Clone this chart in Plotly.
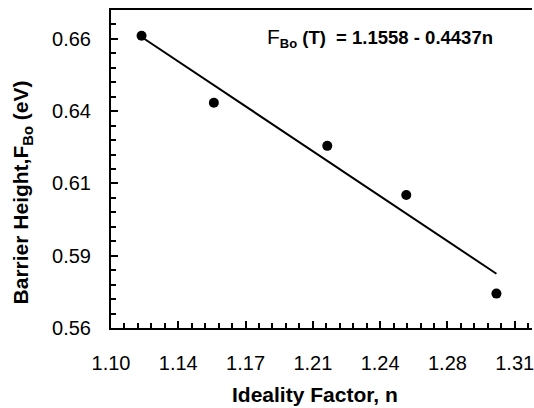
import plotly.graph_objects as go

# data
ideality_n = [1.1159, 1.1535, 1.2125, 1.2536, 1.3005]
barrier_eV = [0.6611, 0.6379, 0.6230, 0.6060, 0.5719]

fit_intercept = 1.1558
fit_slope = -0.4437

x_tickvals = [1.10, 1.135, 1.17, 1.205, 1.24, 1.275, 1.31]
x_ticktext = ["1.10", "1.14", "1.17", "1.21", "1.24", "1.28", "1.31"]
y_tickvals = [0.56, 0.585, 0.61, 0.635, 0.66]
y_ticktext = ["0.56", "0.59", "0.61", "0.64", "0.66"]

FONT = "Liberation Sans, Arial, sans-serif"

fit_x = [min(ideality_n), max(ideality_n)]
fit_y = [fit_intercept + fit_slope * v for v in fit_x]

fig = go.Figure()
fig.add_trace(go.Scatter(x=fit_x, y=fit_y, mode="lines",
                         line=dict(color="black", width=2), showlegend=False))
fig.add_trace(go.Scatter(x=ideality_n, y=barrier_eV, mode="markers",
                         marker=dict(color="black", size=10), showlegend=False))

W, H = 534, 408
L, R, T, B = 111, 0, 10, 80
pw, ph = W - L - R, H - T - B

def px(xp):
    return (xp - L) / pw

def py(yp):
    return (H - B - yp) / ph

fig.update_layout(
    width=W, height=H,
    margin=dict(l=L, r=R, t=T, b=B),
    paper_bgcolor="white", plot_bgcolor="white",
    font=dict(family=FONT, size=20, color="black"),
    xaxis=dict(range=[1.10, 1.319], tickvals=x_tickvals, ticktext=x_ticktext,
               ticks="inside", ticklen=7, tickwidth=1.5, tickcolor="black",
               showline=True, linewidth=2, linecolor="black", mirror=True,
               showgrid=False, zeroline=False, ticklabelstandoff=16,
               ticklabeloverflow="allow",
               minor=dict(dtick=0.007, tick0=1.10, ticks="inside", ticklen=5,
                          tickwidth=1.5, tickcolor="black", showgrid=False)),
    yaxis=dict(range=[0.56, 0.67], tickvals=y_tickvals, ticktext=y_ticktext,
               ticks="inside", ticklen=7, tickwidth=1.5, tickcolor="black",
               showline=True, linewidth=2, linecolor="black", mirror=False,
               showgrid=False, zeroline=False, ticklabelstandoff=14,
               ticklabeloverflow="allow",
               minor=dict(dtick=0.005, tick0=0.56, ticks="inside", ticklen=5,
                          tickwidth=1.5, tickcolor="black", showgrid=False)),
    annotations=[
        dict(xref="paper", yref="paper", x=px(316), y=py(394),
             text="<b>Ideality Factor, n</b>", showarrow=False,
             xanchor="center", yanchor="middle", font=dict(size=21)),
        dict(xref="paper", yref="paper", x=px(22), y=py(192),
             text="<b>Barrier Height,F<sub>Bo</sub> (eV)</b>", showarrow=False,
             textangle=-90, xanchor="center", yanchor="middle", font=dict(size=21)),
        dict(xref="paper", yref="paper", x=px(266), y=py(38),
             text="<span style='font-size:21px'>F</span><b><sub>Bo</sub> (T)  = 1.1558 - 0.4437n</b>",
             showarrow=False, xanchor="left", yanchor="middle", font=dict(size=18.5)),
    ],
)

fig.write_html("out.html")
